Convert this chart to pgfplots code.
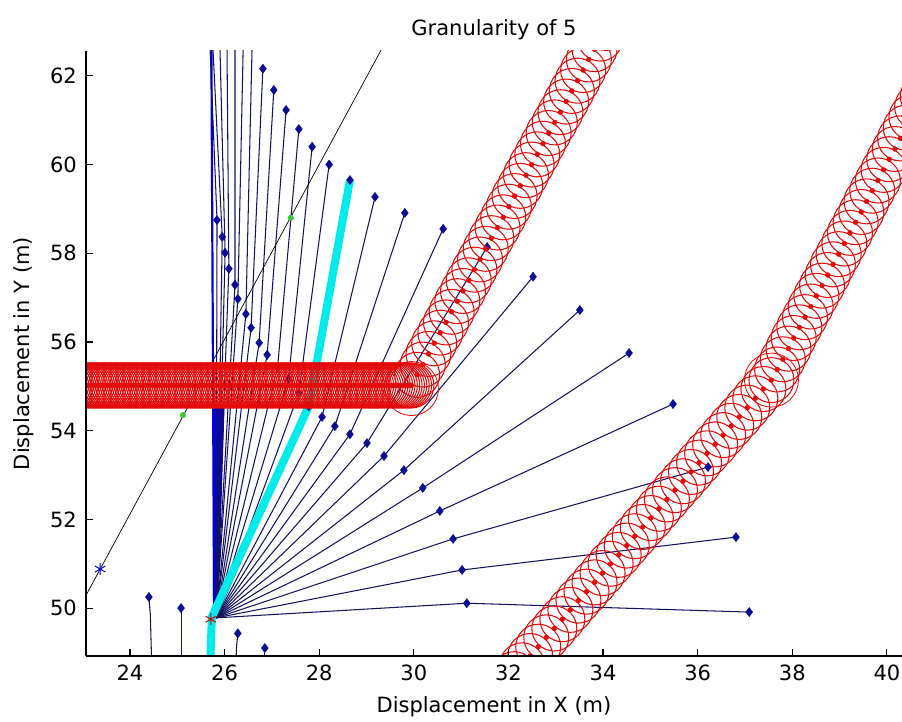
\documentclass[border=0pt]{standalone}
\usepackage{fontspec}
\setmainfont{DejaVu Sans}
\usepackage{pgfplots}
\usepackage{pgfplotstable}
\pgfplotsset{compat=1.18}
\definecolor{navyline}{RGB}{18,18,95}
\definecolor{diam}{RGB}{10,10,150}
\definecolor{mblue}{RGB}{0,0,225}
\definecolor{bandred}{RGB}{228,10,10}
\definecolor{mgreen}{RGB}{60,200,60}
\definecolor{mcyan}{RGB}{0,235,235}
\pgfplotsset{
 geom/.style={scale only axis, width=816pt, height=605pt,
   xmin=23.07, xmax=40.32, ymin=48.92, ymax=62.56, at={(0pt,0pt)}, anchor=south west},
 fan/.style={navyline, line width=1.05pt, mark=none},
 circ/.style={only marks, mark=o, mark size=22.5pt, mark options={draw=bandred, line width=1.05pt}},
 rdot/.style={only marks, mark=*, mark size=2.4pt, mark options={fill=bandred, draw=bandred}},
 dia/.style={only marks, mark=diamond*, mark size=4.6pt, mark options={fill=diam, draw=diam}},
}
\pgfplotstableread{
x y
22.60 55.02
22.65 55.02
22.70 55.02
22.75 55.02
22.80 55.02
22.85 55.02
22.90 55.02
22.95 55.02
23.00 55.02
23.05 55.02
23.10 55.02
23.15 55.02
23.20 55.02
23.25 55.02
23.30 55.02
23.35 55.02
23.40 55.02
23.45 55.02
23.50 55.02
23.55 55.02
23.60 55.02
23.65 55.02
23.70 55.02
23.75 55.02
23.80 55.02
23.85 55.02
23.90 55.02
23.95 55.02
24.00 55.02
24.05 55.02
24.10 55.02
24.15 55.02
24.20 55.02
24.25 55.02
24.30 55.02
24.35 55.02
24.40 55.02
24.45 55.02
24.50 55.02
24.55 55.02
24.60 55.02
24.65 55.02
24.70 55.02
24.75 55.02
24.80 55.02
24.85 55.02
24.90 55.02
24.95 55.02
25.00 55.02
25.05 55.02
25.10 55.02
25.15 55.02
25.20 55.02
25.25 55.02
25.30 55.02
25.35 55.02
25.40 55.02
25.45 55.02
25.50 55.02
25.55 55.02
25.60 55.02
25.65 55.02
25.70 55.02
25.75 55.02
25.80 55.02
25.85 55.02
25.90 55.02
25.95 55.02
26.00 55.02
26.05 55.02
26.10 55.02
26.15 55.02
26.20 55.02
26.25 55.02
26.30 55.02
26.35 55.02
26.40 55.02
26.45 55.02
26.50 55.02
26.55 55.02
26.60 55.02
26.65 55.02
26.70 55.02
26.75 55.02
26.80 55.02
26.85 55.02
26.90 55.02
26.95 55.02
27.00 55.02
27.05 55.02
27.10 55.02
27.15 55.02
27.20 55.02
27.25 55.02
27.30 55.02
27.35 55.02
27.40 55.02
27.45 55.02
27.50 55.02
27.55 55.02
27.60 55.02
27.65 55.02
27.70 55.02
27.75 55.02
27.80 55.02
27.85 55.02
27.90 55.02
27.95 55.02
28.00 55.02
28.05 55.02
28.10 55.02
28.15 55.02
28.20 55.02
28.25 55.02
28.30 55.02
28.35 55.02
28.40 55.02
28.45 55.02
28.50 55.02
28.55 55.02
28.60 55.02
28.65 55.02
28.70 55.02
28.75 55.02
28.80 55.02
28.85 55.02
28.90 55.02
28.95 55.02
29.00 55.02
29.05 55.02
29.10 55.02
29.15 55.02
29.20 55.02
29.25 55.02
29.30 55.02
29.35 55.02
29.40 55.02
29.45 55.02
29.50 55.02
29.55 55.02
29.60 55.02
29.65 55.02
29.70 55.02
29.75 55.02
29.80 55.02
29.85 55.02
29.90 55.02
29.95 55.02
30.07 55.26
30.19 55.49
30.31 55.73
30.43 55.97
30.56 56.21
30.68 56.44
30.80 56.68
30.92 56.92
31.04 57.15
31.16 57.39
31.28 57.63
31.40 57.86
31.52 58.10
31.64 58.34
31.77 58.58
31.89 58.81
32.01 59.05
32.13 59.29
32.25 59.52
32.37 59.76
32.49 60.00
32.61 60.23
32.73 60.47
32.85 60.71
32.98 60.95
33.10 61.18
33.22 61.42
33.34 61.66
33.46 61.89
33.58 62.13
33.70 62.37
33.82 62.60
33.94 62.84
34.06 63.08
34.18 63.32
}\bandA
\pgfplotstableread{
x y
31.95 48.30
32.12 48.51
32.29 48.71
32.46 48.92
32.63 49.13
32.80 49.34
32.97 49.54
33.14 49.75
33.31 49.96
33.48 50.17
33.65 50.37
33.82 50.58
33.99 50.79
34.16 51.00
34.33 51.20
34.50 51.41
34.67 51.62
34.84 51.83
35.01 52.03
35.18 52.24
35.35 52.45
35.52 52.66
35.69 52.86
35.86 53.07
36.03 53.28
36.20 53.49
36.37 53.69
36.54 53.90
36.71 54.11
36.88 54.31
37.05 54.52
37.22 54.73
37.39 54.94
37.56 55.14
37.68 55.38
37.80 55.61
37.92 55.85
38.03 56.09
38.15 56.33
38.27 56.56
38.39 56.80
38.51 57.04
38.63 57.27
38.75 57.51
38.86 57.75
38.98 57.98
39.10 58.22
39.22 58.46
39.34 58.70
39.46 58.93
39.57 59.17
39.69 59.41
39.81 59.64
39.93 59.88
40.05 60.12
40.17 60.35
40.28 60.59
40.40 60.83
40.52 61.07
40.64 61.30
40.76 61.54
40.88 61.78
41.00 62.01
41.12 62.25
41.24 62.49
41.36 62.73
}\bandB
\begin{document}
\begin{tikzpicture}
% ---- layer 1: paths ----
\begin{axis}[geom, hide axis]
\addplot[draw=none, fill=mblue] coordinates {(25.75,49.8) (25.75,54.6) (26.00,54.6) (25.86,49.8)} -- cycle;
\addplot[mblue, line width=2.2pt] coordinates {(25.78,49.8) (25.72,62.8)};
\addplot[fan] coordinates {(25.82,49.78) (25.84,58.75) (25.64,64)};
\addplot[fan] coordinates {(25.82,49.78) (25.95,58.37) (25.69,64)};
\addplot[fan] coordinates {(25.82,49.78) (26.01,58.01) (25.87,64)};
\addplot[fan] coordinates {(25.82,49.78) (26.09,57.65) (26.04,64)};
\addplot[fan] coordinates {(25.82,49.78) (26.22,57.29) (26.22,64)};
\addplot[fan] coordinates {(25.82,49.78) (26.28,56.97) (26.42,64)};
\addplot[fan] coordinates {(25.82,49.78) (26.45,56.63) (26.61,64)};
\addplot[fan] coordinates {(25.82,49.78) (26.56,56.32) (26.81,62.16)};
\addplot[fan] coordinates {(25.82,49.78) (26.73,55.98) (27.04,61.68)};
\addplot[fan] coordinates {(25.82,49.78) (26.90,55.71) (27.30,61.23)};
\addplot[fan] coordinates {(25.82,49.78) (27.12,55.43) (27.57,60.80)};
\addplot[fan] coordinates {(25.82,49.78) (27.35,55.15) (27.85,60.40)};
\addplot[fan] coordinates {(25.82,49.78) (27.57,54.85) (28.21,60.00)};
\addplot[fan] coordinates {(25.82,49.78) (27.78,54.55) (28.65,59.65)};
\addplot[fan] coordinates {(25.82,49.78) (28.06,54.31) (29.18,59.27)};
\addplot[fan] coordinates {(25.82,49.78) (28.33,54.10) (29.81,58.91)};
\addplot[fan] coordinates {(25.82,49.78) (28.65,53.92) (30.62,58.55)};
\addplot[fan] coordinates {(25.82,49.78) (29.01,53.72) (31.55,58.14)};
\addplot[fan] coordinates {(25.82,49.78) (29.37,53.43) (32.52,57.47)};
\addplot[fan] coordinates {(25.82,49.78) (29.79,53.11) (33.51,56.72)};
\addplot[fan] coordinates {(25.82,49.78) (30.19,52.71) (34.55,55.75)};
\addplot[fan] coordinates {(25.82,49.78) (30.55,52.19) (35.48,54.60)};
\addplot[fan] coordinates {(25.82,49.78) (30.83,51.56) (36.22,53.18)};
\addplot[fan] coordinates {(25.82,49.78) (31.02,50.86) (36.81,51.60)};
\addplot[fan] coordinates {(25.82,49.78) (31.12,50.11) (37.09,49.91)};
\addplot[fan] coordinates {(24.47,48.3) (24.43,49.85) (24.40,50.25)};
\addplot[fan] coordinates {(25.08,48.3) (25.08,50.00)};
\addplot[fan] coordinates {(26.23,48.3) (26.25,49.1) (26.28,49.43)};
\addplot[fan] coordinates {(26.85,48.3) (26.85,49.10)};
\addplot[dia] coordinates {(27.12,55.43) (27.35,55.15) (27.57,54.85) (27.78,54.55) (31.55,58.14)};
\addplot[mcyan, line width=8pt, line join=round] coordinates {(25.68,48.2) (25.73,49.8) (27.78,54.55) (28.65,59.65)};
\addplot[black, line width=0.7pt] coordinates {(23.0,50.15) (29.45,62.86)};
\end{axis}
% ---- layer 2: obstacle bands, clipped to the axis box ----
\begin{scope}
\clip (0pt,0pt) rectangle (816pt,605pt);
\begin{axis}[geom, hide axis, clip=false]
\addplot[circ] table {\bandA};
\addplot[rdot] table {\bandA};
\addplot[circ] table {\bandB};
\addplot[rdot] table {\bandB};
\addplot[only marks, mark=o, mark size=27pt, mark options={draw=bandred, line width=0.8pt}] coordinates {(29.95,54.95) (37.56,55.14)};
\end{axis}
\end{scope}
% ---- layer 3: markers and the axis itself ----
\begin{axis}[geom,
 axis x line*=bottom, axis y line*=left,
 axis line style={line width=1.1pt, black},
 tick align=inside, major tick length=7pt,
 tick style={line width=1.1pt, black},
 xtick={24,26,...,40}, ytick={50,52,...,62},
 /pgf/number format/assume math mode=true,
 every tick label/.append style={font=\fontsize{21}{25}\selectfont},
 xticklabel style={inner sep=0pt, anchor=north, yshift=-9pt},
 yticklabel style={inner sep=0pt, anchor=east, xshift=-9pt},
 title={Granularity of 5},
 title style={at={(axis description cs:0.5,1.026)}, anchor=center, inner sep=0pt, font=\fontsize{21}{25}\selectfont},
 xlabel={Displacement in X (m)},
 xlabel style={at={(axis description cs:0.5,-0.0843)}, anchor=center, inner sep=0pt, font=\fontsize{21}{25}\selectfont},
 ylabel={Displacement in Y (m)},
 ylabel style={at={(axis description cs:-0.076,0.5)}, anchor=center, inner sep=0pt, font=\fontsize{21}{25}\selectfont},
]
\addplot[dia] coordinates {
(25.84,58.75) (25.95,58.37) (26.01,58.01) (26.09,57.65) (26.22,57.29) (26.28,56.97) (26.45,56.63) (26.56,56.32) (26.73,55.98) (26.90,55.71)
(28.06,54.31) (28.33,54.10) (28.65,53.92) (29.01,53.72) (29.37,53.43) (29.79,53.11) (30.19,52.71) (30.55,52.19) (30.83,51.56) (31.02,50.86) (31.12,50.11)
(26.81,62.16) (27.04,61.68) (27.30,61.23) (27.57,60.80) (27.85,60.40) (28.21,60.00) (28.65,59.65) (29.18,59.27) (29.81,58.91) (30.62,58.55)
(32.52,57.47) (33.51,56.72) (34.55,55.75) (35.48,54.60) (36.22,53.18) (36.81,51.60) (37.09,49.91)
(24.40,50.25) (25.08,50.00) (26.28,49.43) (26.85,49.10)
};
\addplot[only marks, mark=*, mark size=2.8pt, mark options={fill=mgreen, draw=mgreen}] coordinates {(25.12,54.35) (27.40,58.80)};
\addplot[only marks, mark=asterisk, mark size=6pt, mark options={draw=mblue, line width=1pt}] coordinates {(23.37,50.88)};
\addplot[only marks, mark=asterisk, mark size=6pt, mark options={draw=red!80!black, line width=1pt}] coordinates {(25.71,49.75)};
\end{axis}
\pgfresetboundingbox
\useasboundingbox (-86pt,-65pt) rectangle (816pt,656pt);
\end{tikzpicture}
\end{document}
